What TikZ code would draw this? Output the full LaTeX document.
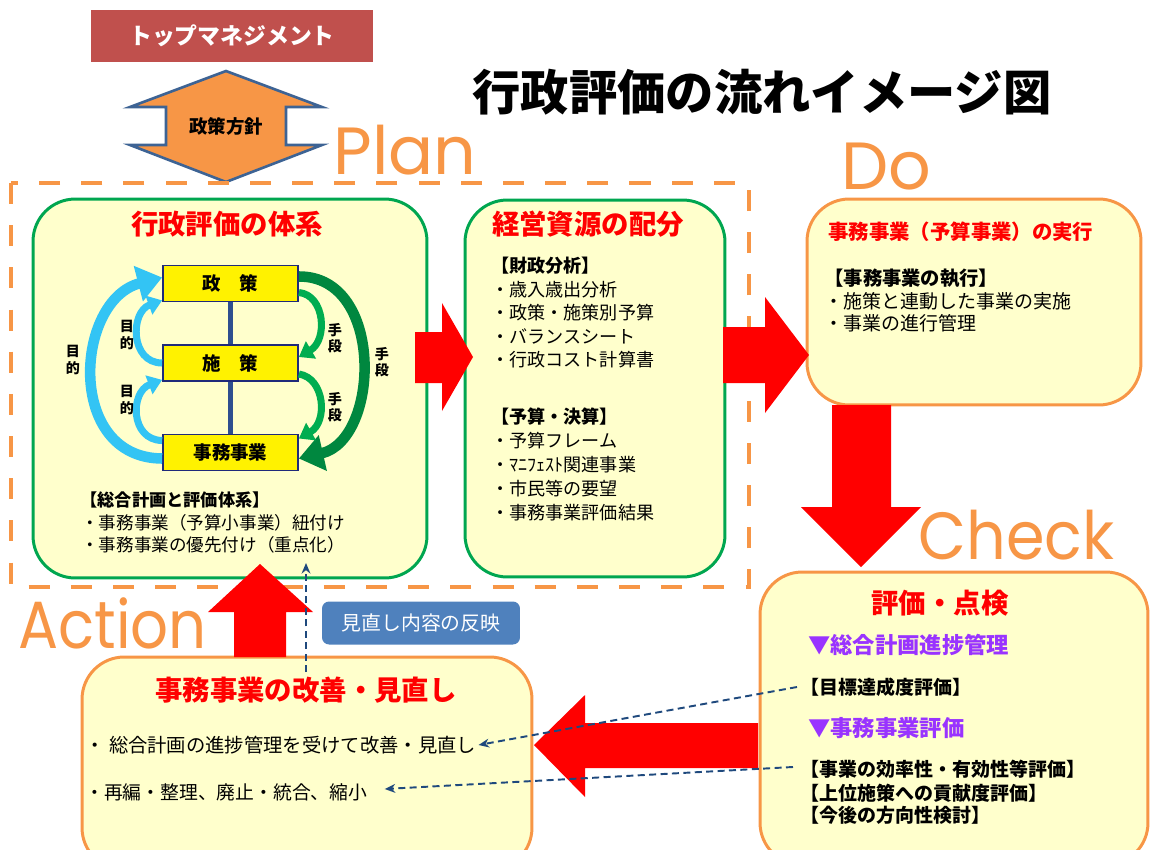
\documentclass[tikz,border=0pt]{standalone}
\usepackage{fontspec}
\setmainfont{Noto Sans CJK JP}
\newfontfamily\pdcafont{Poppins}
\usetikzlibrary{positioning,calc,arrows.meta}
\definecolor{mgmtred}{HTML}{C0504D}
\definecolor{pdcaorange}{HTML}{F79646}
\definecolor{boxfill}{HTML}{FFFFCC}
\definecolor{boxgreen}{HTML}{00A650}
\definecolor{boxnavy}{HTML}{1F2A7A}
\definecolor{navyline}{HTML}{2F4F8F}
\definecolor{arrowedge}{HTML}{3D6394}
\definecolor{dashblue}{HTML}{1F497D}
\definecolor{notebg}{HTML}{4F81BD}
\definecolor{purplehead}{HTML}{9933FF}
\definecolor{skyarrow}{HTML}{33C4F4}
\definecolor{darkgreen}{HTML}{00873F}
\definecolor{midgreen}{HTML}{00AD50}
\begin{document}
\begin{tikzpicture}[x=0.02cm,y=-0.02cm,
  panel/.style={draw=#1,line width=1.7pt,fill=boxfill,rounded corners=24pt,inner sep=0pt},
  heading/.style={inner sep=0pt,text=red,font=\bfseries\fontsize{15.6}{18}\selectfont},
  item/.style={anchor=west,inner sep=0pt,font=\fontsize{10.3}{12}\selectfont},
  bolditem/.style={item,font=\bfseries\fontsize{10.3}{12}\selectfont},
  stepbox/.style={draw=boxnavy,line width=1pt,fill=yellow,minimum width=2.7cm,minimum height=0.72cm,font=\bfseries\fontsize{10.5}{12}\selectfont},
  vlabel/.style={align=center,inner sep=0pt,font=\bfseries\fontsize{8}{9.5}\selectfont},
  pdca/.style={anchor=base west,inner sep=0pt,text=pdcaorange,font=\pdcafont\fontsize{38}{40}\selectfont},
  aim/.style={skyarrow,line width=#1},
  means/.style={line width=#1},
  bigtip/.style={-{Triangle[length=14pt,width=20pt]}},
  smalltip/.style={-{Triangle[length=8pt,width=11pt]}},
  reflect/.style={dashblue,line width=1.1pt,dash pattern=on 4pt off 2.5pt,-{Stealth[length=6pt,width=5pt]}}]
\useasboundingbox (0,0) rectangle (1150,849);

% top management and policy
\node[fill=mgmtred,minimum width=5.64cm,minimum height=1.04cm,text=white,font=\bfseries\fontsize{13}{15}\selectfont] (mgmt) at (232,36) {トップマネジメント};
\filldraw[fill=pdcaorange,draw=arrowedge,line width=1.5pt] (226,71) -- (322,107) -- (286,107) -- (286,145) -- (322,145) -- (226,182) -- (130,145) -- (166,145) -- (166,107) -- (130,107) -- cycle;
\node[font=\bfseries\fontsize{10.5}{12}\selectfont] (houshin) at (226,126) {政策方針};
\node[font=\bfseries\fontsize{27.5}{30}\selectfont] (title) at (762,92) {行政評価の流れイメージ図};

% PDCA words
\node[pdca] (plan) at (333,174) {Plan};
\node[pdca] (do) at (841,189) {Do};
\node[pdca,xscale=0.93] (check) at (918,559) {Check};
\node[pdca,xscale=0.89] (action) at (18,648) {Action};

% plan area
\draw[pdcaorange,line width=2.6pt,dash pattern=on 12pt off 12pt] (11,183) rectangle (749,587);
\node[panel=boxgreen,minimum width=7.88cm,minimum height=7.58cm] (taikei) at (230,388.5) {};
\node[panel=boxgreen,minimum width=5.2cm,minimum height=7.54cm] (haibun) at (595,388.5) {};
\node[heading] (taikei-title) at (227,224) {行政評価の体系};
\node[heading] (haibun-title) at (588,224) {経営資源の配分};

% policy system
\node[stepbox] (seisaku) at (230.5,283.5) {政\quad 策};
\node[stepbox] (shisaku) at (230.5,363) {施\quad 策};
\node[stepbox] (jimu) at (230.5,452.5) {事務事業};
\draw[navyline,line width=2.3pt] (seisaku) -- (shisaku);
\draw[navyline,line width=2.3pt] (shisaku) -- (jimu);
\draw[aim=6pt,bigtip] ($(jimu.west)+(0,6)$) .. controls (65,458) and (75,300) .. ($(seisaku.west)+(0,-6)$);
\draw[aim=4pt,smalltip] (shisaku.west) .. controls (130,363) and (130,312) .. ($(seisaku.south west)+(0,-2)$);
\draw[aim=4pt,smalltip] ($(jimu.west)+(0,-12)$) .. controls (130,440) and (130,392) .. ($(shisaku.south west)+(0,-2)$);
\draw[means=6pt,darkgreen,bigtip] ($(seisaku.east)+(0,-7)$) .. controls (385,276) and (380,440) .. ($(jimu.east)+(0,6)$);
\draw[means=4pt,midgreen,smalltip] ($(seisaku.east)+(0,9)$) .. controls (325,295) and (328,340) .. ($(shisaku.east)+(0,-6)$);
\draw[means=4pt,midgreen,smalltip] ($(shisaku.east)+(0,11)$) .. controls (325,378) and (328,422) .. ($(jimu.east)+(0,-14)$);
\node[vlabel] (aim-big) at (73,360) {目\\的};
\node[vlabel] (aim-up) at (127,335) {目\\的};
\node[vlabel] (aim-low) at (127,400) {目\\的};
\node[vlabel] (means-up) at (335,338) {手\\段};
\node[vlabel] (means-low) at (335,407) {手\\段};
\node[vlabel] (means-big) at (382,362) {手\\段};
\node[bolditem,font=\bfseries\fontsize{9.8}{12}\selectfont] (keikaku) at (80,500) {【総合計画と評価体系】};
\node[item,font=\fontsize{10}{12}\selectfont] (keikaku-1) at (81,523) {・事務事業（予算小事業）紐付け};
\node[item,font=\fontsize{10}{12}\selectfont] (keikaku-2) at (81,545) {・事務事業の優先付け（重点化）};

% resources
\node[bolditem] (zaisei) at (491,266) {【財政分析】};
\foreach \t [count=\i] in {・歳入歳出分析,・政策・施策別予算,・バランスシート,・行政コスト計算書}
  \node[item] (zaisei-\i) at (491,266+23.5*\i) {\t};
\node[bolditem] (kessan) at (491,417) {【予算・決算】};
\foreach \t [count=\i] in {・予算フレーム,・ﾏﾆﾌｪｽﾄ関連事業,・市民等の要望,・事務事業評価結果}
  \node[item] (kessan-\i) at (491,417+24*\i) {\t};

% do
\node[panel=pdcaorange,minimum width=6.68cm,minimum height=4.12cm] (jikko) at (974,302) {};
\node[heading,anchor=west,font=\bfseries\fontsize{11.6}{14}\selectfont] (jikko-title) at (828,232) {事務事業（予算事業）の実行};
\node[bolditem,font=\bfseries\fontsize{11}{13}\selectfont] (shikko) at (824,278) {【事務事業の執行】};
\node[item,font=\fontsize{10.8}{13}\selectfont] (shikko-1) at (824,301) {・施策と連動した事業の実施};
\node[item,font=\fontsize{10.8}{13}\selectfont] (shikko-2) at (824,323) {・事業の進行管理};

% check
\node[panel=pdcaorange,minimum width=7.76cm,minimum height=5.86cm] (tenken) at (954,718.5) {};
\node[heading] (tenken-title) at (940,603) {評価・点検};
\node[item,text=purplehead,font=\bfseries\fontsize{12.7}{15}\selectfont] (shinchoku) at (808,645) {▼総合計画進捗管理};
\node[bolditem,font=\bfseries\fontsize{10.8}{13}\selectfont] (mokuhyo) at (800,687) {【目標達成度評価】};
\node[item,text=purplehead,font=\bfseries\fontsize{12.7}{15}\selectfont] (jimuhyoka) at (808,728) {▼事務事業評価};
\node[bolditem,font=\bfseries\fontsize{10.8}{13}\selectfont] (koritsu) at (800,769) {【事業の効率性・有効性等評価】};
\node[bolditem,font=\bfseries\fontsize{10.8}{13}\selectfont] (koken) at (800,793) {【上位施策への貢献度評価】};
\node[bolditem,font=\bfseries\fontsize{10.8}{13}\selectfont] (hoko) at (800,815) {【今後の方向性検討】};

% action
\node[panel=pdcaorange,minimum width=9cm,minimum height=4.26cm] (kaizen) at (307,763.5) {};
\node[heading] (kaizen-title) at (306,690) {事務事業の改善・見直し};
\node[item,font=\fontsize{11}{13}\selectfont] (kai-1) at (85,745) {・ 総合計画の進捗管理を受けて改善・見直し};
\node[item,font=\fontsize{10.7}{13}\selectfont] (kai-2) at (85,792) {・再編・整理、廃止・統合、縮小};
\node[fill=notebg,rounded corners=4pt,minimum width=3.96cm,minimum height=0.86cm,text=white,font=\fontsize{11.3}{13}\selectfont] (hanei) at (421,623) {見直し内容の反映};

% flow arrows
\fill[red] (415,332) -- (442,332) -- (442,303) -- (473,357) -- (442,411) -- (442,383) -- (415,383) -- cycle;
\fill[red] (723,327) -- (765,327) -- (765,297) -- (809,355) -- (765,413) -- (765,383) -- (723,383) -- cycle;
\fill[red] (832,405) -- (891,405) -- (891,507) -- (921,507) -- (861,567) -- (801,507) -- (832,507) -- cycle;
\fill[red] (758,723) -- (585,723) -- (585,695) -- (534,745) -- (585,797) -- (585,768) -- (758,768) -- cycle;
\fill[red] (234,657) -- (234,612) -- (208,612) -- (260,564) -- (313,612) -- (286,612) -- (286,657) -- cycle;

% feedback
\coordinate (hanei-start) at (306,672);
\coordinate (hanei-end) at (306,563);
\draw[reflect] (hanei-start) -- (hanei-end);
\draw[reflect] ($(mokuhyo.west)+(-3,0)$) -- ($(kai-1.east)+(2,0)$);
\draw[reflect] ($(koritsu.west)+(-7,-2)$) -- ($(kai-2.east)+(17,-3)$);
\end{tikzpicture}
\end{document}
